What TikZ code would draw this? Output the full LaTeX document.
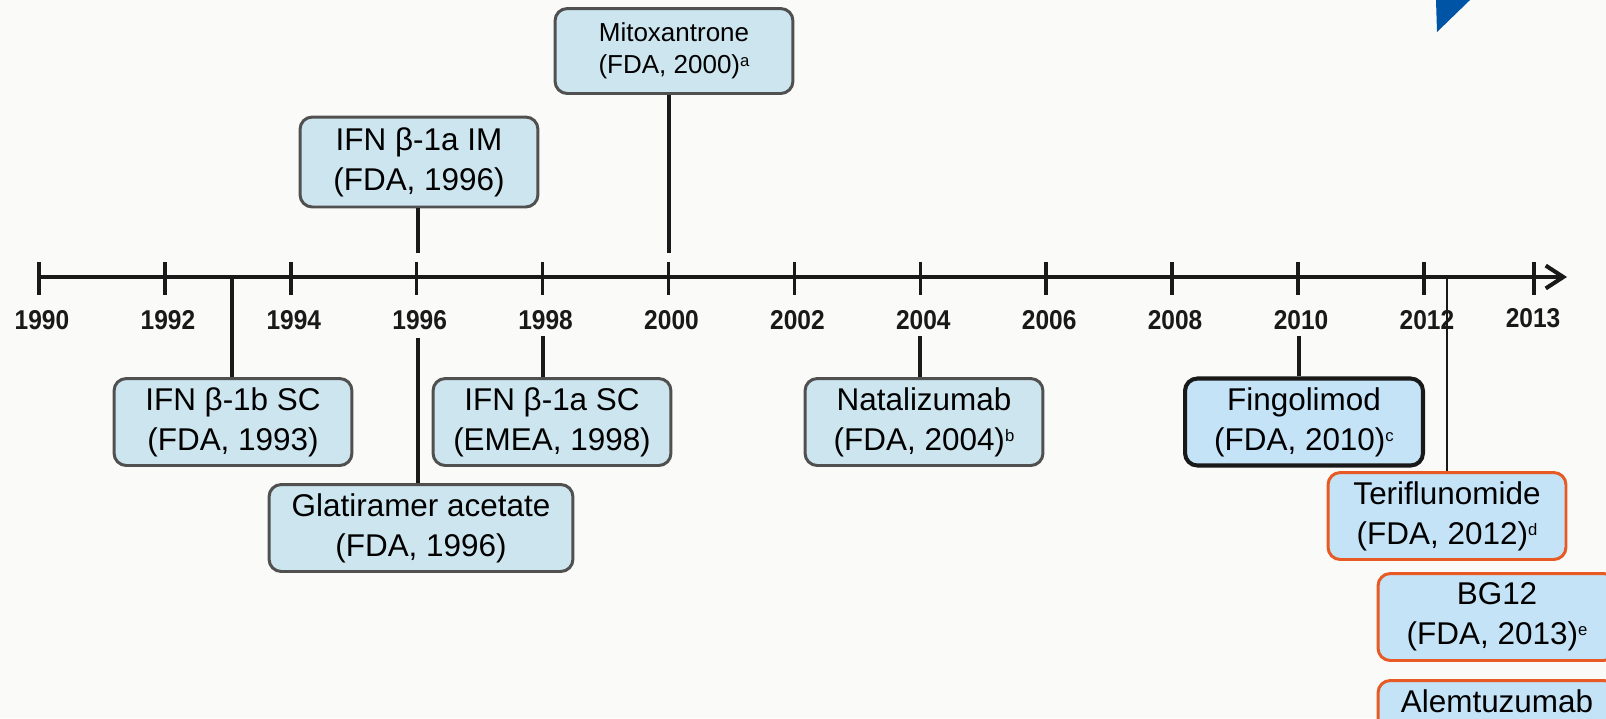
\documentclass[tikz,border=0pt]{standalone}
\usepackage{fontspec}
\setmainfont{Liberation Sans}
\newfontfamily\yearfont[FakeStretch=0.9]{Liberation Sans}
\usepackage{xcolor}
\usetikzlibrary{arrows.meta, positioning}
\definecolor{bg}{RGB}{250,250,249}
\definecolor{boxfill}{RGB}{204,229,238}
\definecolor{newfill}{RGB}{196,227,246}
\definecolor{boxline}{RGB}{80,80,80}
\definecolor{neworange}{RGB}{232,90,36}
\definecolor{logoblue}{RGB}{0,84,166}
\newcommand{\fnmark}[1]{\raisebox{0.55ex}{\fontsize{9.5}{9.5}\selectfont #1}}

\begin{document}
\begin{tikzpicture}[
  x=0.02cm, y=-0.02cm,
  drug/.style={rectangle, rounded corners=7pt, draw=boxline, line width=1.7pt,
    fill=boxfill, minimum width=4.76cm, minimum height=1.74cm,
    align=center, font=\fontsize{17.9}{22.8}\selectfont, inner sep=2pt},
  newdrug/.style={drug, draw=neworange, fill=newfill},
  conn/.style={draw=black!90, line width=1.8pt},
  yr/.style={font=\yearfont\bfseries\fontsize{15.5}{17}\selectfont, text=black!90},
  yrtick/.style={draw=black!90, line width=2pt},
  axisline/.style={draw=black!90, line width=2.3pt,
    -{Straight Barb[length=10pt, width=13pt]}}
]
\useasboundingbox (0,0) rectangle (1606,718);
\clip (0,0) rectangle (1606,718);
\fill[bg] (0,0) rectangle (1606,718);
\fill[logoblue] (1436,0) -- (1470,0) -- (1437,32) -- cycle;

% time axis
\coordinate (ax0) at (39,277);
\coordinate (ax1) at (1567,277);
\draw[axisline] (ax0) -- (ax1);
\foreach \yr [count=\i from 0] in {1990,1992,...,2012} {
  \draw[yrtick] (39+\i*125.9,262) -- (39+\i*125.9,295);
  \node[yr] (y\yr) at (42+\i*125.9,320) {\yr};
}
\draw[yrtick] (1534,262) -- (1534,295);
\node[yr] (y2013) at (1533,318) {2013};

% approvals
\node[drug, font=\fontsize{14.8}{18.2}\selectfont, minimum height=1.7cm]
  (mito) at (674,51) {Mitoxantrone\\(FDA, 2000)\fnmark{a}};
\node[drug, minimum height=1.8cm] (ifnaim) at (419,162) {IFN β-1a IM\\(FDA, 1996)};
\node[drug] (ifnbsc) at (233,422) {IFN β-1b SC\\(FDA, 1993)};
\node[drug] (ifnasc) at (552,422) {IFN β-1a SC\\(EMEA, 1998)};
\node[drug, minimum width=6.08cm] (glat) at (421,528) {Glatiramer acetate\\(FDA, 1996)};
\node[drug] (natal) at (924,422) {Natalizumab\\(FDA, 2004)\fnmark{b}};
\node[drug, draw=black!90, line width=2.3pt, fill=newfill]
  (fingo) at (1304,422) {Fingolimod\\(FDA, 2010)\fnmark{c}};

% newer agents
\node[newdrug] (terif) at (1447,516) {Teriflunomide\\(FDA, 2012)\fnmark{d}};
\node[newdrug] (bg12) at (1497,617) {BG12\\(FDA, 2013)\fnmark{e}};
\node[newdrug, anchor=north, minimum height=0pt, inner ysep=5pt, text depth=1.5cm]
  (alem) at (1497,679) {Alemtuzumab};

% connectors
\coordinate (c1993) at (232,277);
\coordinate (u1996) at (418,253);
\coordinate (d1996) at (418,338);
\coordinate (c1998) at (543,336);
\coordinate (u2000) at (669,253);
\coordinate (c2004) at (920,336);
\coordinate (c2010) at (1299,336);
\coordinate (c2012) at (1447,277);
\foreach \c/\b in {c1993/ifnbsc.north, d1996/glat.north, c1998/ifnasc.north,
                   c2004/natal.north, c2010/fingo.north, u1996/ifnaim.south,
                   u2000/mito.south}
  \draw[conn] (\c) -- (\c |- \b);
\draw[conn, line width=1.2pt] (c2012) -- (c2012 |- terif.north);
\end{tikzpicture}
\end{document}
